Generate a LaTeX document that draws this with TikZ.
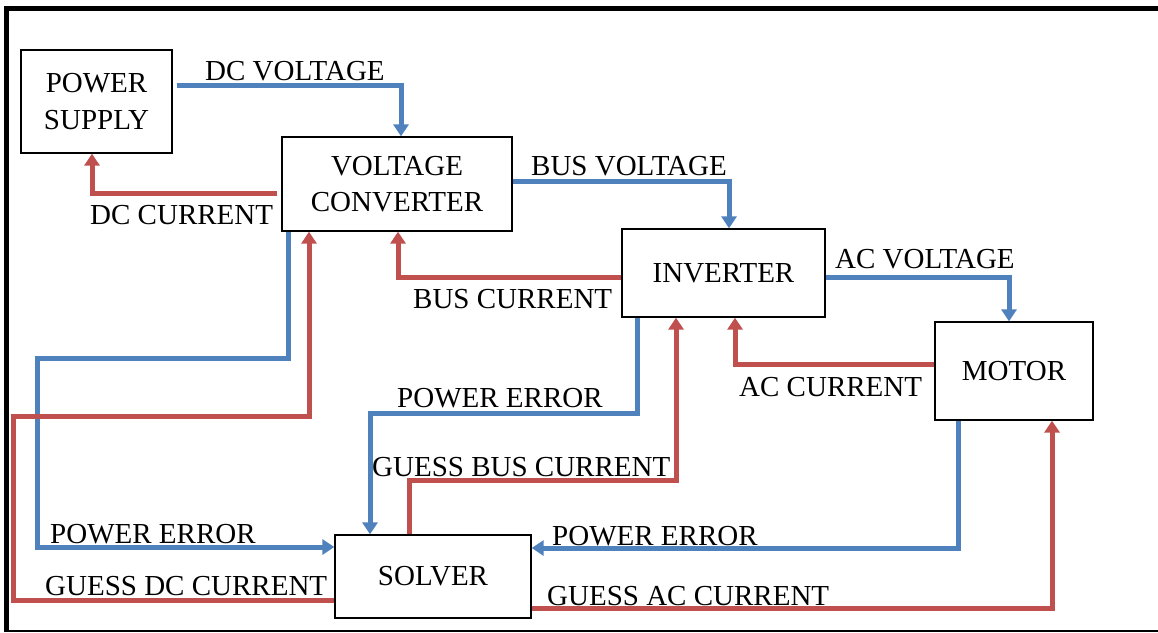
\documentclass[tikz,border=0pt]{standalone}
\usepackage{fontspec}
\setmainfont{Liberation Serif}
\usetikzlibrary{arrows.meta}
\definecolor{lblue}{HTML}{4F81BD}
\definecolor{lred}{HTML}{C0504D}
\tikzset{
  box/.style={draw=black, line width=1.3pt, fill=white, align=center, inner sep=0pt,
    font=\fontsize{29}{36.5}\selectfont},
  lbl/.style={anchor=base west, inner sep=0pt, font=\fontsize{29}{36}\selectfont},
  bwire/.style={draw=lblue, line width=5pt, -{Triangle[length=12pt,width=15pt]}},
  rwire/.style={draw=lred, line width=5pt, -{Triangle[length=12pt,width=15pt]}},
}
\begin{document}
\begin{tikzpicture}[x=1pt,y=-1pt]
\useasboundingbox (0,0) rectangle (1158,632);
% frame
\draw[line width=5pt] (6.5,632) -- (6.5,8) -- (1158,8);
\draw[line width=1.5pt] (4,630.8) -- (1158,630.8);
% boxes
\node[box, minimum width=151pt, minimum height=103pt] (ps) at (96.5,101.5) {POWER\\SUPPLY};
\node[box, minimum width=230pt, minimum height=94pt] (vc) at (397,184) {VOLTAGE\\CONVERTER};
\node[box, minimum width=203pt, minimum height=88pt] (inv) at (723.5,273) {INVERTER};
\node[box, minimum width=158pt, minimum height=98pt] (mot) at (1014,371) {MOTOR};
\node[box, minimum width=196pt, minimum height=83pt] (sol) at (433,576.5) {SOLVER};
% connectors
\draw[bwire] ([xshift=4pt]ps.east |- 0,85) -| (vc.north -| 401,0);
\draw[rwire] ([xshift=-4pt]vc.west |- 0,193) -| (ps.south -| 92,0);
\draw[bwire] (vc.east |- 0,181) -| (inv.north -| 729,0);
\draw[rwire] (inv.west |- 0,277) -| (vc.south -| 398,0);
\draw[bwire] (inv.east |- 0,277) -| (mot.north -| 1009,0);
\draw[rwire] (mot.west |- 0,364) -| (inv.south -| 735,0);
\draw[bwire] (vc.south -| 288,0) |- (37,358) |- (sol.west |- 0,547);
\draw[rwire] (sol.west |- 0,600) -| (13,416) -| (vc.south -| 309,0);
\draw[bwire] (inv.south -| 637,0) |- (370,413) -- (sol.north -| 370,0);
\draw[rwire] (sol.north -| 409,0) |- (676,480) -- (inv.south -| 676,0);
\draw[bwire] (mot.south -| 958,0) |- (sol.east |- 0,548);
\draw[rwire] (sol.east |- 0,608) -| (mot.south -| 1052,0);
% labels
\node[lbl] (l1) at (205,80) {DC VOLTAGE};
\node[lbl] (l2) at (90,224) {DC CURRENT};
\node[lbl] (l3) at (531,175) {BUS VOLTAGE};
\node[lbl] (l4) at (413,308) {BUS CURRENT};
\node[lbl] (l5) at (835,268) {AC VOLTAGE};
\node[lbl] (l6) at (739,396) {AC CURRENT};
\node[lbl] (l7) at (397,407) {POWER ERROR};
\node[lbl] (l8) at (372,476) {GUESS BUS CURRENT};
\node[lbl] (l9) at (552,545) {POWER ERROR};
\node[lbl] (l10) at (50,543) {POWER ERROR};
\node[lbl] (l11) at (45,595) {GUESS DC CURRENT};
\node[lbl] (l12) at (547,605) {GUESS AC CURRENT};
\end{tikzpicture}
\end{document}
